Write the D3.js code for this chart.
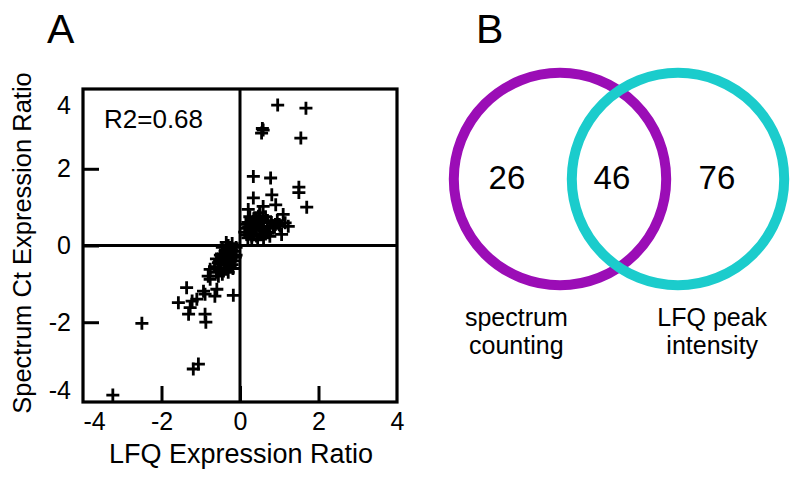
<!DOCTYPE html>
<html>
<head>
<meta charset="utf-8">
<script src="https://cdn.jsdelivr.net/npm/d3@7"></script>
<style>
  body { margin: 0; background: #fff; }
  text { font-family: "Liberation Sans", Arial, Helvetica, sans-serif; fill: #000; }
</style>
</head>
<body>
<figure id="chart" style="margin:0"></figure>
<script>
// Panel A: LFQ ratio (x) vs spectrum count ratio (y)
const lfqRatio = [
  0.96, 1.68, 0.59, 0.55, 0.57, 1.55, 0.34, 0.78, 1.50, 1.50, 1.70, 0.34, 0.81, 0.91,
  1.10, 1.15, 1.23, 1.06, 0.59, 0.51, 0.47, 0.21, 0.30, 0.76, 1.02,
  0.15, 0.20, 0.25, 0.30, 0.35, 0.40, 0.45, 0.50, 0.55, 0.60, 0.65, 0.70, 0.75, 0.80,
  0.85, 0.90, 0.20, 0.30, 0.45, 0.60, 0.25, 0.50, 0.40, 0.55, 0.35, 0.15, 0.70, 0.95,
  1.00, 0.65, 0.12, 0.28, 0.18, 0.38, 0.42, 0.62, 0.22, 0.48, 0.33, 0.58,
  -2.50, -1.36, -1.57, -1.27, -1.31, -1.10, -0.89, -0.93, -0.59, -0.64, -0.17, -0.89,
  -0.87, -0.81, -0.76, -0.76, -1.06, -1.19, -3.24, -1.22,
  -0.10, -0.15, -0.20, -0.25, -0.30, -0.35, -0.40, -0.45, -0.50, -0.55, -0.60, -0.30,
  -0.20, -0.35, -0.45, -0.25, -0.15, -0.40, -0.50, -0.30, -0.55, -0.65, -0.20, -0.35,
  -0.10, -0.60, -0.45, -0.25, -0.38, -0.18, -0.28, -0.42, -0.22, -0.33, -0.48, -0.12
];
const spectrumRatio = [
  3.66, 3.58, 3.01, 2.93, 3.05, 2.80, 1.80, 1.76, 1.52, 1.38, 1.00, 1.24, 1.32, 1.06,
  0.81, 0.59, 0.50, 0.29, 1.02, 0.85, 0.76, 0.94, 0.16, 0.24, 0.50,
  0.45, 0.60, 0.35, 0.50, 0.70, 0.40, 0.55, 0.30, 0.60, 0.45, 0.75, 0.50, 0.35, 0.60,
  0.45, 0.55, 0.20, 0.25, 0.15, 0.20, 0.75, 0.85, 0.65, 0.40, 0.30, 0.55, 0.65, 0.65,
  0.55, 0.30, 0.35, 0.42, 0.28, 0.52, 0.25, 0.38, 0.48, 0.62, 0.58, 0.68,
  -2.03, -1.10, -1.49, -1.62, -1.79, -1.40, -1.27, -1.19, -1.14, -1.32, -1.30, -1.79,
  -2.00, -0.80, -0.88, -0.62, -3.09, -3.22, -3.90, -1.45,
  -0.05, -0.15, -0.30, -0.10, -0.40, -0.20, -0.50, -0.30, -0.60, -0.45, -0.70, 0.00,
  -0.50, -0.60, -0.05, -0.25, -0.40, -0.35, -0.25, -0.70, -0.80, -0.55, 0.05, 0.08,
  -0.25, -0.35, -0.75, -0.55, -0.15, -0.60, -0.45, -0.22, -0.12, -0.52, -0.40, -0.30
];
const axisTicks = [-4, -2, 0, 2, 4];
const r2Label = "R2=0.68";

// Panel B: Venn diagram
const vennSets = [["spectrum", "counting"], ["LFQ peak", "intensity"]];
const vennColors = ["#9b0db6", "#1bcccc"];
const vennCounts = [26, 46, 76]; // only A, both, only B

const W = 800, H = 479;
const svg = d3.select("#chart").append("svg")
  .attr("width", W).attr("height", H);

// ---------- panel A ----------
const x = d3.scaleLinear().domain([-4, 4]).range([83, 397]);
const y = d3.scaleLinear().domain([-4.08, 4.08]).range([402, 89]);

const gA = svg.append("g");

// inward ticks + labels (plain hyphen minus, like the original)
const fmt = d => String(d);
const xAxis = gA.append("g")
  .attr("transform", `translate(0,${y.range()[0]})`)
  .call(d3.axisBottom(x).tickValues(axisTicks).tickFormat(fmt)
    .tickSizeInner(-16).tickSizeOuter(0).tickPadding(10));
const yAxis = gA.append("g")
  .attr("transform", `translate(${x.range()[0]},0)`)
  .call(d3.axisLeft(y).tickValues(axisTicks).tickFormat(fmt)
    .tickSizeInner(-16).tickSizeOuter(0).tickPadding(12));

[xAxis, yAxis].forEach(a => {
  a.select(".domain").remove();
  a.selectAll(".tick line").attr("stroke", "#000").attr("stroke-width", 3);
  a.selectAll(".tick text").attr("font-size", 25).attr("fill", "#000")
    .attr("font-family", "Liberation Sans, Arial, sans-serif");
});
// corner ticks are hidden by the frame in the original
xAxis.selectAll(".tick line").filter(d => Math.abs(d) === 4).remove();
yAxis.selectAll(".tick line").filter(d => Math.abs(d) === 4).remove();
// the end labels sit a little inside the box, as in the original
xAxis.selectAll(".tick text").filter(d => d === -4).attr("text-anchor", "start").attr("x", 0);
yAxis.selectAll(".tick text").filter(d => d === 4).attr("dy", "0.85em");
yAxis.selectAll(".tick text").filter(d => d === -4).attr("dy", "0");

// zero lines
gA.append("line")
  .attr("x1", x(0)).attr("x2", x(0)).attr("y1", y.range()[1]).attr("y2", y.range()[0])
  .attr("stroke", "#000").attr("stroke-width", 3);
gA.append("line")
  .attr("x1", x.range()[0]).attr("x2", x.range()[1]).attr("y1", y(0)).attr("y2", y(0))
  .attr("stroke", "#000").attr("stroke-width", 3);

// plus markers
const arm = 6.5;
gA.append("g").selectAll("path")
  .data(lfqRatio.map((v, i) => [v, spectrumRatio[i]]))
  .join("path")
    .attr("d", d => `M${x(d[0]) - arm},${y(d[1])}h${2 * arm}M${x(d[0])},${y(d[1]) - arm}v${2 * arm}`)
    .attr("stroke", "#000").attr("stroke-width", 2.8).attr("fill", "none");

// frame
gA.append("rect")
  .attr("x", x.range()[0]).attr("y", y.range()[1])
  .attr("width", x.range()[1] - x.range()[0]).attr("height", y.range()[0] - y.range()[1])
  .attr("fill", "none").attr("stroke", "#000").attr("stroke-width", 3.2);

gA.append("text").attr("x", 104).attr("y", 128).attr("font-size", 26).text(r2Label);

gA.append("text").attr("x", 241).attr("y", 463).attr("text-anchor", "middle")
  .attr("font-size", 27).text("LFQ Expression Ratio");
gA.append("text").attr("transform", "translate(31,243) rotate(-90)")
  .attr("text-anchor", "middle").attr("font-size", 25.5).text("Spectrum Ct Expression Ratio");

svg.append("text").attr("x", 47).attr("y", 43).attr("font-size", 41).text("A");
svg.append("text").attr("x", 476).attr("y", 43).attr("font-size", 41).text("B");

// ---------- panel B ----------
// one unit = distance between the two circle centres
const v = d3.scaleLinear().domain([0, 1]).range([560, 678]);
const vy = 179, rUnits = 0.9;
const gB = svg.append("g");

gB.selectAll("circle")
  .data(vennSets)
  .join("circle")
    .attr("cx", (d, i) => v(i)).attr("cy", vy)
    .attr("r", v(rUnits) - v(0))
    .attr("fill", "none")
    .attr("stroke", (d, i) => vennColors[i])
    .attr("stroke-width", 10);

const countPos = [-0.45, 0.44, 1.33];
gB.selectAll("text.count")
  .data(vennCounts)
  .join("text")
    .attr("class", "count")
    .attr("x", (d, i) => v(countPos[i])).attr("y", vy + 10)
    .attr("text-anchor", "middle").attr("font-size", 33)
    .text(d => d);

const labelPos = [-0.37, 1.29];
vennSets.forEach((lines, i) => {
  lines.forEach((ln, k) => {
    gB.append("text")
      .attr("x", v(labelPos[i])).attr("y", 326 + 28 * k)
      .attr("text-anchor", "middle").attr("font-size", 25)
      .text(ln);
  });
});
</script>
</body>
</html>
